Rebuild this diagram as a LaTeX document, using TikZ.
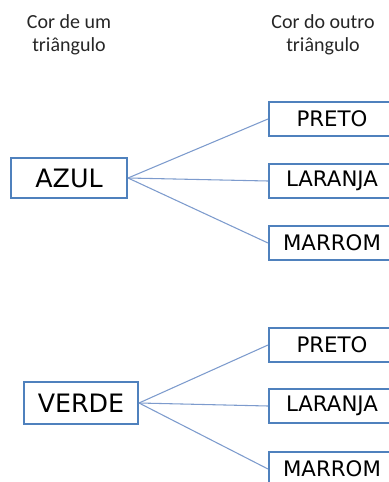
\documentclass[tikz,border=0pt]{standalone}
\usepackage{fontspec}
\setmainfont{Carlito}
\newfontfamily\boxfont{DejaVu Sans}
\definecolor{boxblue}{RGB}{79,129,189}
\definecolor{lineblue}{RGB}{125,155,205}
\begin{document}
\begin{tikzpicture}[x=0.75pt,y=-0.75pt,
  hdr/.style={align=center,inner sep=0pt,font=\fontsize{15}{17.5}\selectfont,text=black!85},
  leftbox/.style={draw=boxblue,line width=1.5pt,minimum height=30pt,inner sep=0pt,font=\boxfont\fontsize{19}{22}\selectfont},
  rightbox/.style={draw=boxblue,line width=1.5pt,minimum width=94.5pt,minimum height=26pt,inner sep=0pt,font=\boxfont\fontsize{16}{19}\selectfont},
  conn/.style={draw=lineblue,line width=0.8pt}]
\useasboundingbox (0,0) rectangle (389,482);
\clip (0,0) rectangle (389,482);
\node[hdr] (h1) at (69,35) {Cor de um\\triângulo};
\node[hdr] (h2) at (323,35) {Cor do outro\\triângulo};
\node[leftbox,minimum width=87pt] (azul) at (69,178) {AZUL};
\node[rightbox] (p1) at (332,119) {PRETO};
\node[rightbox] (l1) at (332,181) {LARANJA};
\node[rightbox] (m1) at (332,243) {MARROM};
\node[leftbox,minimum width=85.5pt,minimum height=31.5pt] (verde) at (81,403) {VERDE};
\node[rightbox] (p2) at (332,345) {PRETO};
\node[rightbox] (l2) at (332,406) {LARANJA};
\node[rightbox] (m2) at (332,469) {MARROM};
\draw[conn] (azul.east) -- (p1.west);
\draw[conn] (azul.east) -- (l1.west);
\draw[conn] (azul.east) -- (m1.west);
\draw[conn] (verde.east) -- (p2.west);
\draw[conn] (verde.east) -- (l2.west);
\draw[conn] (verde.east) -- (m2.west);
\end{tikzpicture}
\end{document}
